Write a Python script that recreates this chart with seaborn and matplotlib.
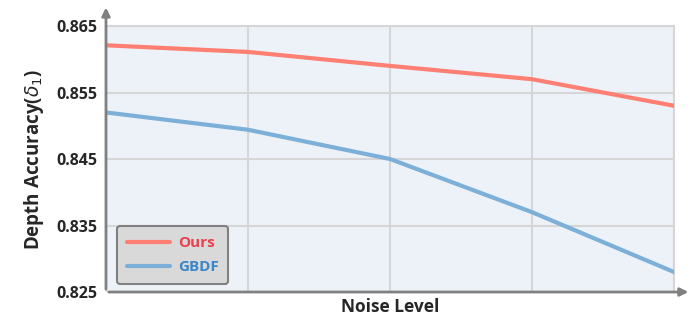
import numpy as np
import pandas as pd
import seaborn as sns
import matplotlib.pyplot as plt

# noise levels (no tick labels shown in the figure)
noise = [0, 1, 2, 3, 4]
ours = [0.8621, 0.8611, 0.8590, 0.8570, 0.8530]
gbdf = [0.8520, 0.8494, 0.8450, 0.8370, 0.8280]
yticks = [0.825, 0.835, 0.845, 0.855, 0.865]

df = pd.DataFrame({
    "noise": noise * 2,
    "acc": ours + gbdf,
    "method": ["Ours"] * len(noise) + ["GBDF"] * len(noise),
})

sns.set_style("white")
plt.rcParams['font.family'] = ['Open Sans', 'DejaVu Sans']

fig = plt.figure(figsize=(6.95, 3.21), dpi=100)
ax = fig.add_axes([0.1525, 0.0903, 0.8175, 0.8287])
ax.set_facecolor("#EDF2F9")

line_cols = {"Ours": "#FF7F73", "GBDF": "#7DB0D8"}
text_cols = {"Ours": "#E8404E", "GBDF": "#3A86C8"}

sns.lineplot(data=df, x="noise", y="acc", hue="method", palette=line_cols,
             linewidth=3, ax=ax, zorder=3)

ax.set_xlim(noise[0], noise[-1])
ax.set_ylim(yticks[0], yticks[-1])
ax.set_xticks(noise)
ax.set_xticklabels([])
ax.set_yticks(yticks)
ax.set_yticklabels([f"{t:.3f}" for t in yticks], fontweight="bold", fontsize=11.5)
ax.tick_params(length=0, pad=6)
ax.grid(True, color="#D6D6D6", linewidth=1.5, zorder=0)
ax.set_axisbelow(True)

for s in ["top", "right"]:
    ax.spines[s].set_visible(True)
    ax.spines[s].set_color("#D6D6D6")
    ax.spines[s].set_linewidth(1.5)
for s in ["left", "bottom"]:
    ax.spines[s].set_visible(False)

ax.set_xlabel("Noise Level", fontweight="bold", fontsize=12.5, labelpad=-2)
ax.set_ylabel(r"Depth Accuracy($\delta_1$)", fontweight="bold", fontsize=13.5, labelpad=8)

# arrow axes
ax.annotate("", xy=(1.03, 0), xytext=(0, 0), xycoords="axes fraction",
            arrowprops=dict(arrowstyle="-|>", color="#808080", lw=2, mutation_scale=12))
ax.annotate("", xy=(0, 1.08), xytext=(0, 0), xycoords="axes fraction",
            arrowprops=dict(arrowstyle="-|>", color="#808080", lw=2, mutation_scale=12))

leg = ax.legend(loc="lower left", bbox_to_anchor=(0.02, 0.03), borderaxespad=0,
                frameon=True, fancybox=True, facecolor="#D9D9D9", edgecolor="#808080",
                framealpha=1, prop={"weight": "bold", "size": 11},
                handlelength=2.8, borderpad=0.65, labelspacing=0.65,
                handletextpad=0.5)
leg.get_frame().set_linewidth(1.5)
for t in leg.get_texts():
    t.set_color(text_cols[t.get_text()])

fig.savefig("out.png", dpi=100)
